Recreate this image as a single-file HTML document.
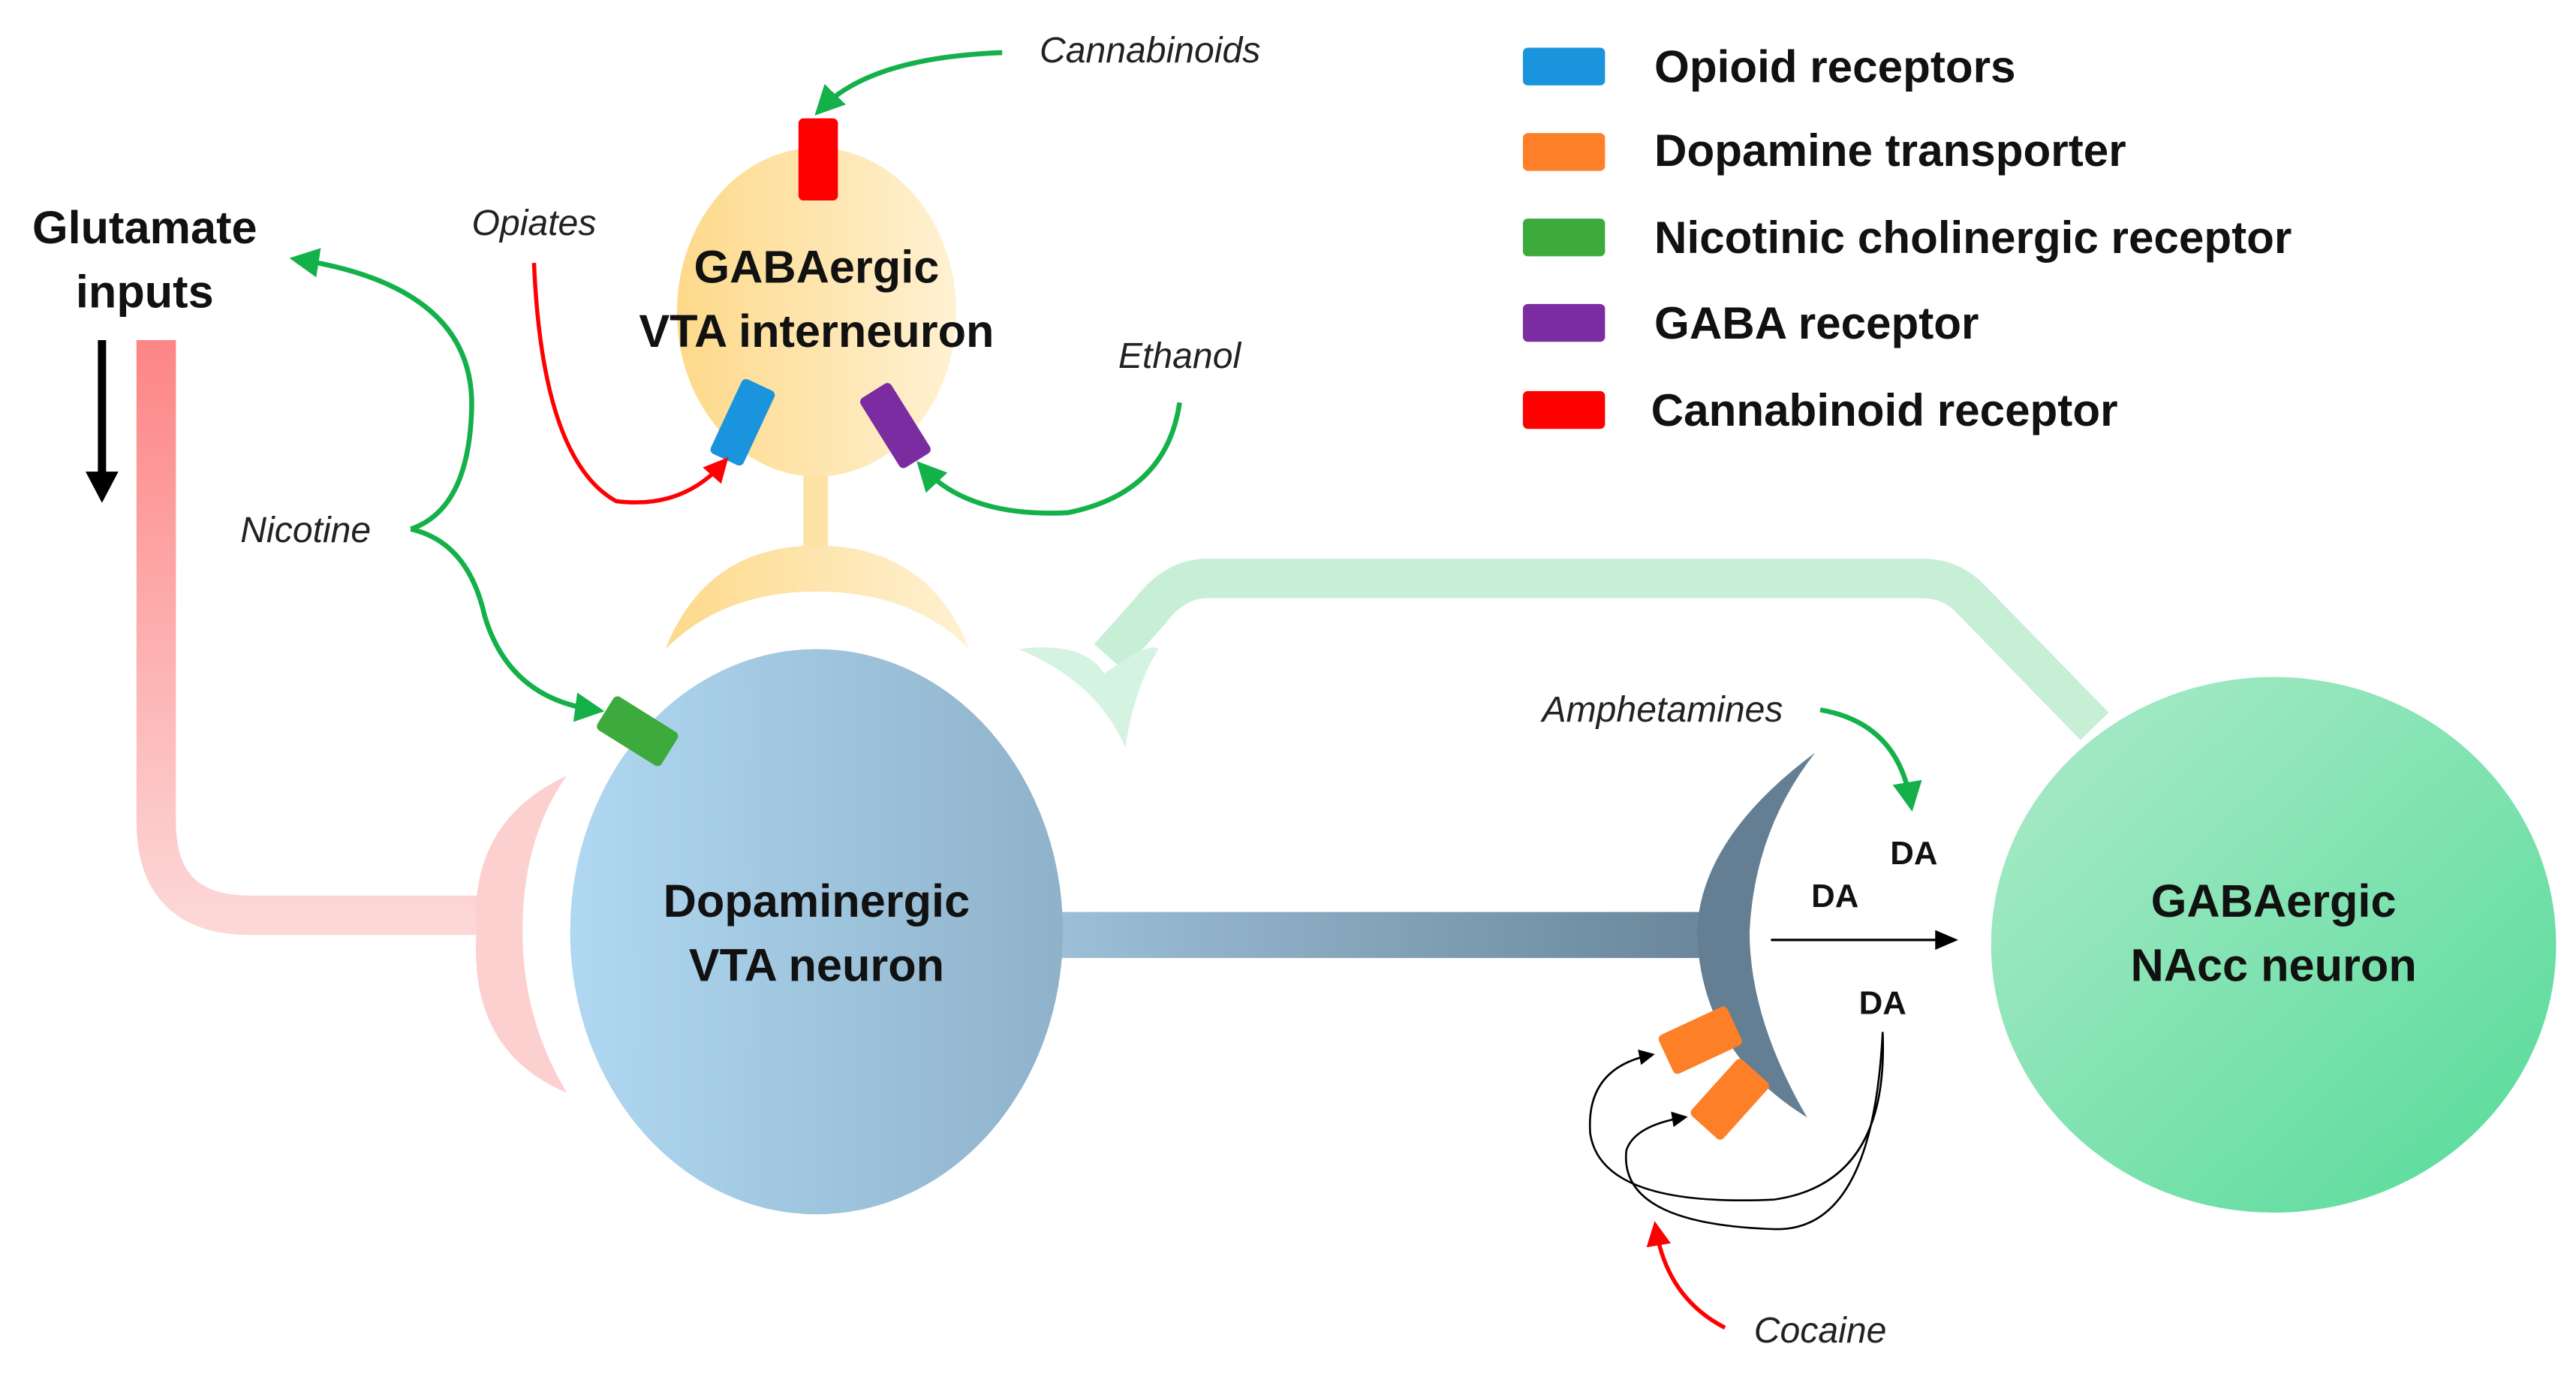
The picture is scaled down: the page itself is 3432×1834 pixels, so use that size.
<!DOCTYPE html>
<html><head><meta charset="utf-8"><style>
html,body{margin:0;padding:0;background:#fff;width:3432px;height:1834px;overflow:hidden}
svg{display:block}
text{font-family:"Liberation Sans",sans-serif}
.b{font-weight:bold;font-size:28px;fill:#111}
.l{font-weight:bold;font-size:27.5px;fill:#111}
.i{font-style:italic;font-size:22px;fill:#222}
</style></head><body>
<svg width="3432" height="1834" viewBox="0 0 1568 838" xmlns="http://www.w3.org/2000/svg">
<defs>
<linearGradient id="pink" x1="0" y1="0" x2="0" y2="1"><stop offset="0" stop-color="#fd8585"/><stop offset="1" stop-color="#fdd6d6"/></linearGradient>
<linearGradient id="blu" x1="0" y1="0" x2="1" y2="0"><stop offset="0" stop-color="#b0d8f2"/><stop offset="1" stop-color="#8fb2ca"/></linearGradient>
<linearGradient id="axon" x1="0" y1="0" x2="1" y2="0"><stop offset="0" stop-color="#9dc0d8"/><stop offset="1" stop-color="#69869a"/></linearGradient>
<linearGradient id="yel" x1="0" y1="0" x2="1" y2="0"><stop offset="0" stop-color="#fdd98a"/><stop offset="1" stop-color="#fff1d2"/></linearGradient>
<linearGradient id="grn" x1="0" y1="0" x2="1" y2="1"><stop offset="0" stop-color="#aeebcb"/><stop offset="1" stop-color="#55da98"/></linearGradient>
<marker id="ag" markerWidth="6" markerHeight="6" refX="4" refY="3" orient="auto" markerUnits="strokeWidth"><path d="M0,0 L6,3 L0,6 z" fill="#14b04a"/></marker>
<marker id="ar" markerWidth="6" markerHeight="6" refX="4" refY="3" orient="auto" markerUnits="strokeWidth"><path d="M0,0 L6,3 L0,6 z" fill="#f00"/></marker>
<marker id="ak" markerWidth="8" markerHeight="8" refX="6" refY="4" orient="auto" markerUnits="strokeWidth"><path d="M0,0 L8,4 L0,8 z" fill="#000"/></marker>
</defs>

<!-- Glutamate -->
<text class="b" x="88" y="148" text-anchor="middle">Glutamate</text>
<text class="b" x="88" y="187" text-anchor="middle">inputs</text>
<line x1="62" y1="207" x2="62" y2="290" stroke="#000" stroke-width="5"/>
<path d="M52,287 L72,287 L62,306 z" fill="#000"/>
<path d="M95,207 V500 Q95,557 152,557 H300" fill="none" stroke="url(#pink)" stroke-width="24"/>
<path d="M345,472 Q285,500 290,567 Q285,640 345,665 Q318,620 318,567 Q318,510 345,472z" fill="#fdd0d0"/>

<!-- green NAcc dendrite -->
<path d="M1275,442 L1200,365 Q1188,352 1170,352 H735 Q715,352 700,372 L675,400" fill="none" stroke="#c6efd6" stroke-width="24"/>
<path d="M620,395 Q660,390 672,410 Q700,390 705,395 Q690,420 685,455 Q668,415 620,395z" fill="#d4f3e0"/>

<!-- dopaminergic -->
<rect x="640" y="555" width="400" height="28" fill="url(#axon)"/>
<ellipse cx="497" cy="567" rx="150" ry="172" fill="url(#blu)"/>
<text class="b" x="497" y="558" text-anchor="middle">Dopaminergic</text>
<text class="b" x="497" y="597" text-anchor="middle">VTA neuron</text>
<path d="M1105,458 Q1035,510 1033,567 Q1035,640 1100,680 Q1065,620 1065,567 Q1068,505 1105,458z" fill="#647f93"/>

<!-- GABA interneuron -->
<rect x="489" y="270" width="15" height="68" fill="#fde2a6"/>
<path d="M405,395 Q430,332 497,332 Q565,332 590,395 Q555,360 497,360 Q440,360 405,395z" fill="url(#yel)"/>
<ellipse cx="497" cy="190" rx="85" ry="100" fill="url(#yel)"/>
<rect x="486" y="72" width="24" height="50" rx="3" fill="#fe0000"/>
<rect x="441" y="232" width="22" height="50" rx="3" fill="#1a94dc" transform="rotate(25 452 257)"/>
<rect x="534" y="234" width="22" height="50" rx="3" fill="#7b2ca0" transform="rotate(-32 545 259)"/>
<text class="b" x="497" y="172" text-anchor="middle">GABAergic</text>
<text class="b" x="497" y="211" text-anchor="middle">VTA interneuron</text>

<!-- drug arrows -->
<text class="i" x="700" y="38" text-anchor="middle">Cannabinoids</text>
<path d="M610,32 Q530,35 500,66" fill="none" stroke="#14b04a" stroke-width="3" marker-end="url(#ag)"/>
<text class="i" x="325" y="143" text-anchor="middle">Opiates</text>
<path d="M325,160 Q330,280 375,305 Q415,310 440,282" fill="none" stroke="#f00" stroke-width="2.5" marker-end="url(#ar)"/>
<text class="i" x="718" y="224" text-anchor="middle">Ethanol</text>
<path d="M718,245 Q710,300 650,312 Q590,315 562,285" fill="none" stroke="#14b04a" stroke-width="3" marker-end="url(#ag)"/>
<text class="i" x="186" y="330" text-anchor="middle">Nicotine</text>
<path d="M250,322 Q285,310 287,250 Q290,175 182,158" fill="none" stroke="#14b04a" stroke-width="3" marker-end="url(#ag)"/>
<path d="M250,322 Q285,330 295,375 Q310,425 362,432" fill="none" stroke="#14b04a" stroke-width="3" marker-end="url(#ag)"/>
<rect x="365" y="433" width="46" height="24" rx="3" fill="#3daa3d" transform="rotate(32 388 445)"/>

<!-- synapse -->
<text x="1117" y="552" font-size="20" font-weight="bold" text-anchor="middle" fill="#111" font-family="Liberation Sans">DA</text>
<text x="1165" y="526" font-size="20" font-weight="bold" text-anchor="middle" fill="#111" font-family="Liberation Sans">DA</text>
<text x="1146" y="617" font-size="20" font-weight="bold" text-anchor="middle" fill="#111" font-family="Liberation Sans">DA</text>
<line x1="1078" y1="572" x2="1180" y2="572" stroke="#000" stroke-width="1.5"/>
<path d="M1178,566 L1192,572 L1178,578z" fill="#000"/>
<text class="i" x="1012" y="439" text-anchor="middle">Amphetamines</text>
<path d="M1108,432 Q1155,440 1163,488" fill="none" stroke="#14b04a" stroke-width="3" marker-end="url(#ag)"/>
<path d="M1146,628 Q1150,720 1080,730 Q975,735 968,690 Q965,650 1005,642" fill="none" stroke="#000" stroke-width="1.2" marker-end="url(#ak)"/>
<path d="M1146,628 Q1140,750 1080,748 Q985,745 990,700 Q995,685 1025,680" fill="none" stroke="#000" stroke-width="1.2" marker-end="url(#ak)"/>
<rect x="1012" y="620" width="46" height="26" rx="3" fill="#fd7f27" transform="rotate(-25 1035 633)"/>
<rect x="1030" y="656" width="46" height="26" rx="3" fill="#fd7f27" transform="rotate(-48 1053 669)"/>
<text class="i" x="1108" y="817" text-anchor="middle">Cocaine</text>
<path d="M1050,808 Q1015,790 1008,748" fill="none" stroke="#f00" stroke-width="2.5" marker-end="url(#ar)"/>

<!-- NAcc -->
<ellipse cx="1384" cy="575" rx="172" ry="163" fill="url(#grn)"/>
<text class="b" x="1384" y="558" text-anchor="middle">GABAergic</text>
<text class="b" x="1384" y="597" text-anchor="middle">NAcc neuron</text>

<!-- legend -->
<rect x="927" y="29" width="50" height="23" rx="3" fill="#1a94dc"/>
<rect x="927" y="81" width="50" height="23" rx="3" fill="#fd7f27"/>
<rect x="927" y="133" width="50" height="23" rx="3" fill="#3daa3d"/>
<rect x="927" y="185" width="50" height="23" rx="3" fill="#7b2ca0"/>
<rect x="927" y="238" width="50" height="23" rx="3" fill="#fe0000"/>
<text class="l" x="1007" y="50">Opioid receptors</text>
<text class="l" x="1007" y="101">Dopamine transporter</text>
<text class="l" x="1007" y="154">Nicotinic cholinergic receptor</text>
<text class="l" x="1007" y="206">GABA receptor</text>
<text class="l" x="1005" y="259">Cannabinoid receptor</text>
</svg>
</body></html>
